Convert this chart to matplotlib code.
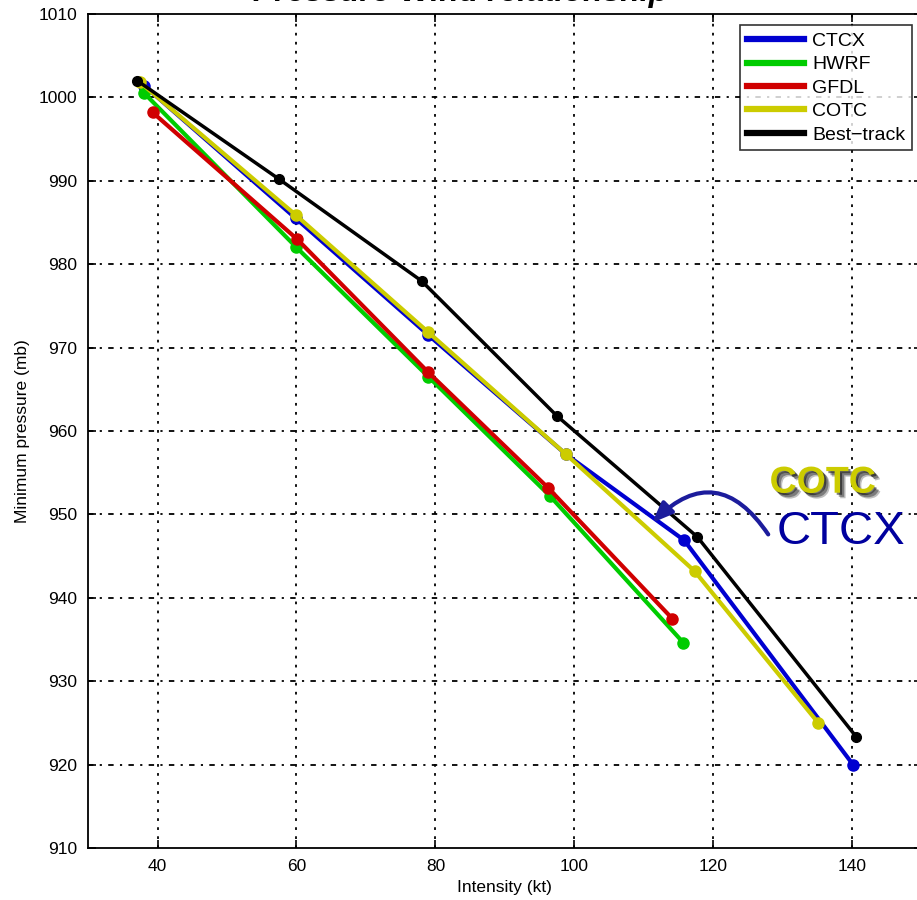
import matplotlib
matplotlib.use("Agg")
import matplotlib.pyplot as plt
import matplotlib.patheffects as pe

plt.rcParams['font.family'] = ['Liberation Sans', 'DejaVu Sans']

# Intensity (kt) and minimum pressure (mb) per model
ctcx_kt = [38.1, 59.9, 79.0, 98.8, 115.8, 140.1]
ctcx_mb = [1001.4, 985.5, 971.5, 957.2, 946.9, 920.0]

hwrf_kt = [38.1, 59.9, 79.0, 96.5, 115.7]
hwrf_mb = [1000.5, 982.1, 966.5, 952.2, 934.6]

gfdl_kt = [39.3, 60.1, 78.9, 96.2, 114.1]
gfdl_mb = [998.2, 983.0, 967.1, 953.2, 937.5]

cotc_kt = [37.5, 59.9, 78.9, 98.8, 117.3, 135.1]
cotc_mb = [1001.8, 985.9, 971.9, 957.2, 943.2, 925.0]

best_kt = [37.1, 57.5, 78.0, 97.5, 117.7, 140.6]
best_mb = [1002.0, 990.2, 978.0, 961.8, 947.3, 923.3]

x_ticks = [40, 60, 80, 100, 120, 140]
y_ticks = [910, 920, 930, 940, 950, 960, 970, 980, 990, 1000, 1010]

fig = plt.figure(figsize=(9.17, 9.0), dpi=100)
ax = fig.add_axes([0.096, 0.0578, 0.9092, 0.9266])

ax.plot(ctcx_kt, ctcx_mb, '-o', color='#0000d0', lw=3, ms=8, label='CTCX', zorder=3)
ax.plot(hwrf_kt, hwrf_mb, '-o', color='#00cc00', lw=3, ms=8, label='HWRF', zorder=3)
ax.plot(gfdl_kt, gfdl_mb, '-o', color='#d00000', lw=3, ms=8, label='GFDL', zorder=3)
ax.plot(cotc_kt, cotc_mb, '-o', color='#cccc00', lw=3, ms=8, label='COTC', zorder=3)
ax.plot(best_kt, best_mb, '-o', color='black', lw=2.5, ms=7, label='Best\u2212track', zorder=3)

ax.set_xlim(30, 150)
ax.set_ylim(910, 1010)
ax.set_xticks(x_ticks)
ax.set_yticks(y_ticks)
ax.tick_params(direction='in', length=6, width=1.2, top=True, right=True,
               labelsize=12.5, pad=8)

for v in x_ticks:
    ax.axvline(v, color='black', lw=1.3, ls=(0, (1.5, 3.5)), zorder=1)
for v in y_ticks[1:-1]:
    ax.axhline(v, color='black', lw=1.3, ls=(0, (3, 3.5, 1.2, 3.5)), zorder=1)

for s in ax.spines.values():
    s.set_linewidth(1.3)

ax.set_xlabel('Intensity (kt)', fontsize=12.5, labelpad=4)
ax.set_ylabel('Minimum pressure (mb)', fontsize=12.5, labelpad=6)

leg = ax.legend(loc='upper right', bbox_to_anchor=(0.9957, 0.9933), fontsize=14,
                handlelength=2.9, frameon=True, fancybox=False, borderpad=0.35,
                labelspacing=0.3, handletextpad=0.45, borderaxespad=0.3)
leg.get_frame().set_edgecolor('black')
leg.get_frame().set_linewidth(1.2)
for line in leg.get_lines():
    line.set_linewidth(4.5)
    line.set_marker('')

fig.text(0.502, 0.9985, 'Pressure-Wind relationship', ha='center', va='baseline',
         fontsize=23, fontweight='bold', fontstyle='italic')

# Callout for the two model labels
ax.annotate('', xy=(111.2, 949.0), xytext=(127.9, 947.6),
            arrowprops=dict(arrowstyle='-|>,head_length=0.55,head_width=0.22',
                            color='#1c1c9c', lw=3, mutation_scale=22,
                            shrinkA=0, shrinkB=0,
                            connectionstyle='arc3,rad=0.6'),
            zorder=5)
ax.text(128.1, 952.6, 'COTC', color='#cccc00', fontsize=27, fontweight='bold',
        ha='left', va='baseline', zorder=6,
        path_effects=[pe.SimplePatchShadow(offset=(4, -4), shadow_rgbFace='black', alpha=0.25),
                      pe.SimplePatchShadow(offset=(3, -3), shadow_rgbFace='black', alpha=0.35),
                      pe.SimplePatchShadow(offset=(1.5, -1.5), shadow_rgbFace='black', alpha=0.5),
                      pe.Normal()])
ax.text(129.1, 946.4, 'CTCX', color='#00009e', fontsize=34,
        ha='left', va='baseline', zorder=6)

fig.savefig('out.png', dpi=100)
